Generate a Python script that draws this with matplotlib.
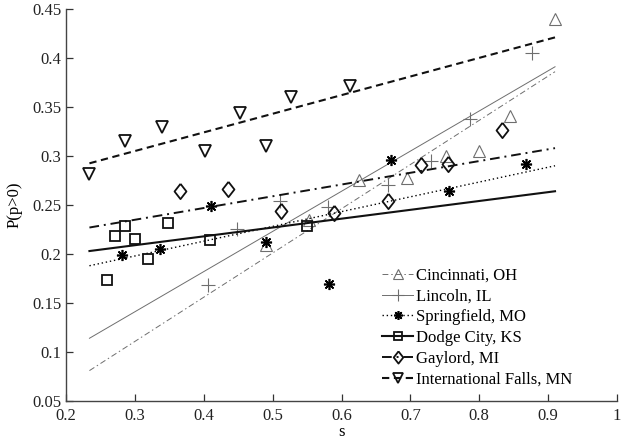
import matplotlib
matplotlib.use('Agg')
import matplotlib.pyplot as plt
import numpy as np

plt.rcParams['font.family'] = ['Liberation Serif', 'DejaVu Serif']
plt.rcParams['font.size'] = 12

# points
cin_s = [0.491, 0.553, 0.626, 0.695, 0.752, 0.799, 0.844, 0.910]
cin_p = [0.209, 0.235, 0.275, 0.278, 0.300, 0.305, 0.341, 0.440]

lin_s = [0.406, 0.448, 0.510, 0.581, 0.667, 0.730, 0.787, 0.876]
lin_p = [0.168, 0.225, 0.254, 0.248, 0.270, 0.295, 0.338, 0.405]

spr_s = [0.281, 0.336, 0.411, 0.491, 0.582, 0.672, 0.756, 0.868]
spr_p = [0.199, 0.205, 0.249, 0.212, 0.169, 0.296, 0.264, 0.292]

dod_s = [0.259, 0.271, 0.285, 0.300, 0.319, 0.348, 0.409, 0.550]
dod_p = [0.173, 0.218, 0.229, 0.215, 0.195, 0.232, 0.214, 0.229]

gay_s = [0.365, 0.435, 0.512, 0.589, 0.668, 0.715, 0.754, 0.833]
gay_p = [0.264, 0.266, 0.2435, 0.242, 0.254, 0.2905, 0.2915, 0.3265]

itl_s = [0.234, 0.285, 0.339, 0.402, 0.453, 0.491, 0.527, 0.613]
itl_p = [0.282, 0.315, 0.330, 0.305, 0.344, 0.310, 0.360, 0.371]

# fitted lines, value at s = 0.234 and s = 0.91
fit_s = [0.234, 0.91]
fit_lo = [0.081, 0.114, 0.188, 0.203, 0.227, 0.2925]
fit_hi = [0.386, 0.391, 0.290, 0.264, 0.308, 0.421]

names = ['Cincinnati, OH', 'Lincoln, IL', 'Springfield, MO',
         'Dodge City, KS', 'Gaylord, MI', 'International Falls, MN']

gray = '#6e6e6e'
diamond = [(0, 1), (0.78, 0), (0, -1), (-0.78, 0), (0, 1)]
styles = [
    dict(color=gray, lw=0.7, ls=(0, (6, 3, 1.5, 3)), marker='^', ms=9, mew=0.8),
    dict(color=gray, lw=0.7, ls='-', marker='+', ms=10, mew=0.8),
    dict(color='black', lw=1.0, ls=(0, (1, 2)), marker=(8, 2, 0), ms=8, mew=1.2),
    dict(color='#111111', lw=1.5, ls='-', marker='s', ms=7, mew=1.3),
    dict(color='#111111', lw=1.4, ls=(0, (5, 2.5, 1, 2.5)), marker=diamond, ms=11, mew=1.3),
    dict(color='#111111', lw=1.5, ls=(0, (3.5, 2.2)), marker='v', ms=9, mew=1.3),
]

xs = [cin_s, lin_s, spr_s, dod_s, gay_s, itl_s]
ys = [cin_p, lin_p, spr_p, dod_p, gay_p, itl_p]

fig = plt.figure(figsize=(6.24, 4.41), dpi=100)
ax = fig.add_axes([0.1058, 0.0907, 0.883, 0.889])

handles = []
for i in range(6):
    st = styles[i]
    ax.plot(xs[i], ys[i], ls='none', marker=st['marker'], ms=st['ms'],
            mew=st['mew'], mfc='none', mec=st['color'])
    ax.plot(fit_s, [fit_lo[i], fit_hi[i]], color=st['color'], lw=st['lw'],
            ls=st['ls'])
    h, = ax.plot([], [], color=st['color'], lw=st['lw'], ls=st['ls'],
                 marker=st['marker'], ms=st['ms'] * 0.8, mew=st['mew'],
                 mfc='none', mec=st['color'])
    handles.append(h)

ax.set_xlim(0.2, 1.0)
ax.set_ylim(0.05, 0.45)
ax.set_xticks(np.arange(0.2, 1.01, 0.1))
ax.set_xticklabels(['0.2', '0.3', '0.4', '0.5', '0.6', '0.7', '0.8', '0.9', '1'])
ax.set_yticks(np.arange(0.05, 0.451, 0.05))
ax.set_yticklabels(['0.05', '0.1', '0.15', '0.2', '0.25', '0.3', '0.35', '0.4', '0.45'])
ax.tick_params(direction='in', length=5, width=0.9, colors='#333333', labelcolor='#222222')
ax.tick_params(axis='x', pad=5)
ax.spines['top'].set_visible(False)
ax.spines['right'].set_visible(False)
for sp in ['left', 'bottom']:
    ax.spines[sp].set_color('#444444')
    ax.spines[sp].set_linewidth(1.0)

ax.set_xlabel('s', labelpad=0)
ax.set_ylabel('P(p>0)', labelpad=7)

leg = ax.legend(handles, names, loc='lower left', bbox_to_anchor=(0.573, 0.034),
                frameon=False, borderpad=0, borderaxespad=0, labelspacing=0.29,
                handlelength=1.9, handletextpad=0.15)

fig.savefig('out.png', dpi=100)
